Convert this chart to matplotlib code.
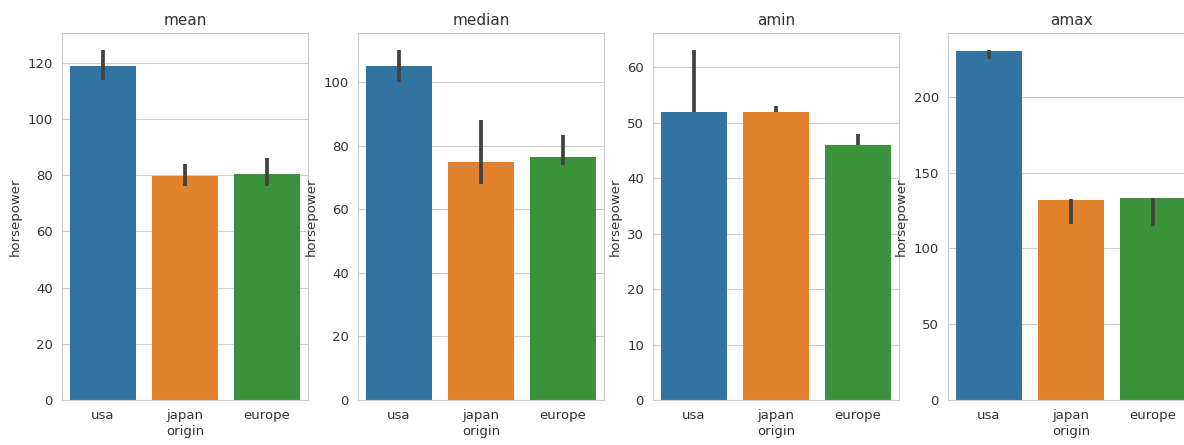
import matplotlib
matplotlib.use("Agg")
import matplotlib.pyplot as plt
import seaborn as sns

sns.set_style("whitegrid")
plt.rcParams['font.family'] = ['DejaVu Sans']

# horsepower by origin, four aggregations
origins = ["usa", "japan", "europe"]
titles = ["mean", "median", "amin", "amax"]

mean_hp = [118.8, 79.8, 80.6]
mean_lo = [113.8, 76.0, 76.2]
mean_hi = [124.4, 84.0, 86.0]

median_hp = [105.0, 75.0, 76.5]
median_lo = [100.0, 68.0, 74.0]
median_hi = [110.0, 88.0, 83.5]

amin_hp = [52.0, 52.0, 46.0]
amin_lo = [52.0, 52.0, 46.0]
amin_hi = [63.0, 53.0, 48.0]

amax_hp = [230.0, 132.0, 133.0]
amax_lo = [225.0, 116.0, 115.0]
amax_hi = [230.5, 132.5, 133.5]

values = [mean_hp, median_hp, amin_hp, amax_hp]
lows = [mean_lo, median_lo, amin_lo, amax_lo]
highs = [mean_hi, median_hi, amin_hi, amax_hi]

colors = ['#3274a1', '#e1812c', '#3a923a']

fig = plt.figure(figsize=(11.84, 4.45), dpi=100)

lefts = [62, 358, 653, 948]  # pixel positions of each panel
for i in range(4):
    ax = fig.add_axes([lefts[i] / 1184, 45 / 445, 246 / 1184, 367 / 445])
    x = list(range(len(origins)))
    ax.bar(x, values[i], width=0.8, color=colors, linewidth=0, zorder=2)
    ax.vlines(x, lows[i], highs[i], color='#424242', linewidth=2.7, zorder=3)
    ax.set_xlim(-0.5, 2.5)
    ax.set_xticks(x)
    ax.set_xticklabels(origins)
    ax.grid(axis='x', visible=False)
    ax.set_axisbelow(True)
    ax.set_title(titles[i], fontsize=11, color='.2')
    ax.set_xlabel("origin", fontsize=9.5, labelpad=2, color='.2')
    ax.set_ylabel("horsepower", fontsize=9.5, labelpad=4, color='.2')
    ax.tick_params(labelsize=9.5, pad=3, labelcolor='.2')

fig.savefig("out.png", dpi=100)
